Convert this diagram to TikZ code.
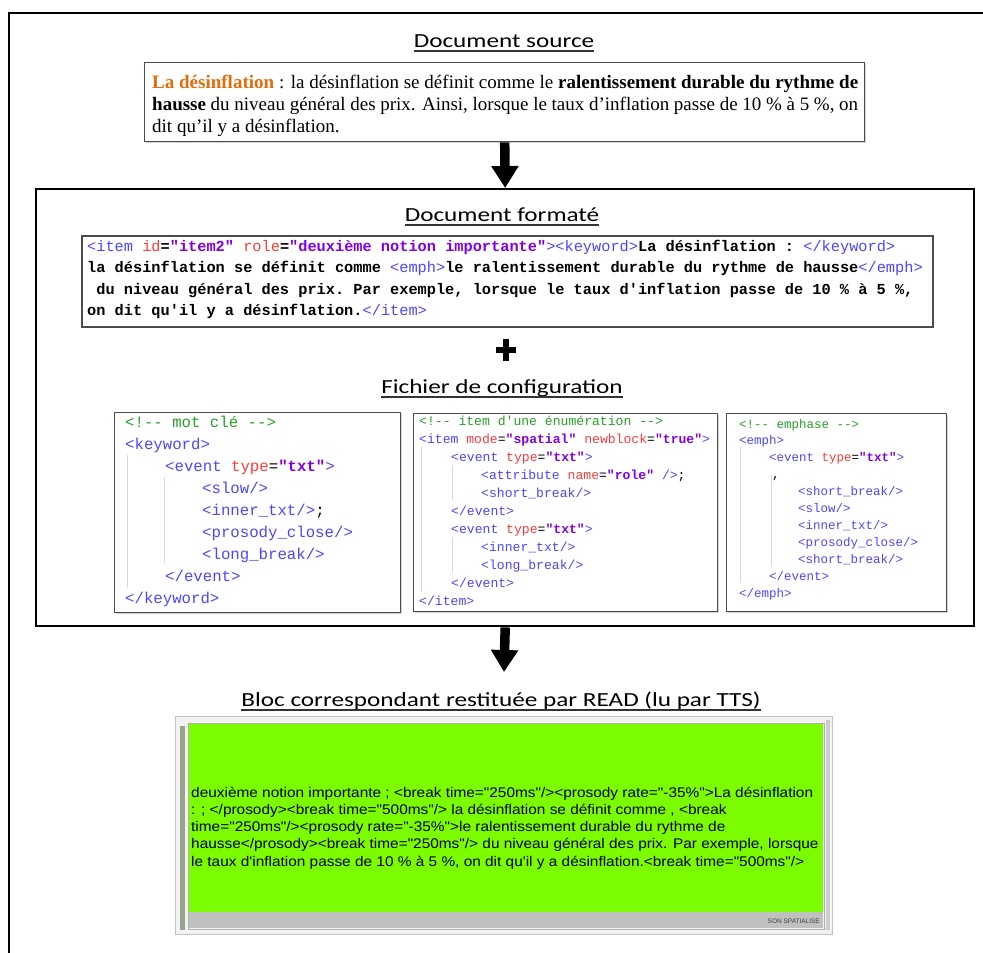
\documentclass[tikz,border=0pt]{standalone}
\usepackage{fontspec}
\setmainfont{Liberation Serif}
\setmonofont{Liberation Mono}
\newfontfamily\titlefont{Carlito}[FakeStretch=1.26]
\newfontfamily\srcfont{Liberation Serif}[FakeStretch=1.0]
\newfontfamily\arialfont{Liberation Sans}[FakeStretch=1.1]
\newfontfamily\smallarial{Liberation Sans}
\usetikzlibrary{arrows.meta,shadows}
\definecolor{xtag}{RGB}{75,70,255}
\definecolor{xattr}{RGB}{250,60,60}
\definecolor{xval}{RGB}{130,0,230}
\definecolor{xcom}{RGB}{40,160,40}
\definecolor{srcorange}{RGB}{228,108,10}
\definecolor{winGreen}{RGB}{124,252,0}
\definecolor{winBorder}{RGB}{195,195,195}
\definecolor{winFill}{RGB}{242,242,242}
\definecolor{winInner}{RGB}{175,175,175}
\definecolor{winBar}{RGB}{192,192,192}
\definecolor{winScrollL}{RGB}{150,162,140}
\definecolor{winScrollR}{RGB}{205,205,205}
\newcommand\xtg[1]{{\mdseries\color{xtag}#1}}
\newcommand\xat[1]{{\mdseries\color{xattr}#1}}
\newcommand\xvl[1]{{\bfseries\color{xval}#1}}
\newcommand\xcm[1]{{\mdseries\color{xcom}#1}}
\begin{document}
\begin{tikzpicture}[x=1pt,y=-1pt,
  title/.style={font=\titlefont\fontsize{20}{24}\selectfont, anchor=base, inner sep=0pt},
  uline/.style={line width=1.3pt, black!80},
  box/.style={draw=black!70, line width=1.4pt, fill=white, anchor=north west, inner sep=0pt,
    drop shadow={shadow xshift=1.2pt,shadow yshift=-1.2pt,opacity=0.35}},
  code/.style={anchor=base west, inner sep=0pt},
  fmtcode/.style={code, font=\ttfamily\bfseries\fontsize{15.3}{18}\selectfont},
  cfgA/.style={code, font=\ttfamily\fontsize{15.7}{18}\selectfont},
  cfgB/.style={code, font=\ttfamily\fontsize{13.1}{16}\selectfont},
  cfgC/.style={code, font=\ttfamily\fontsize{12.5}{15}\selectfont},
  srctext/.style={code, font=\srcfont\fontsize{19}{22}\selectfont},
  greentext/.style={code, font=\arialfont\fontsize{14}{16}\selectfont},
  bigarrow/.style={line width=9.5pt, -{Triangle[width=26pt,length=22pt]}},
  guide/.style={black!15, line width=0.8pt},
  pluspen/.style={line width=6pt},
]
\useasboundingbox (0,0) rectangle (983,953);

% outer frame (clipped at right and bottom)
\draw[line width=2pt] (9,953) -- (9,13) -- (983,13);

% ---------- Document source ----------
\node[title] (t1) at (504,47) {Document source};
\draw[uline] ([yshift=-4pt]t1.base west) -- ([yshift=-4pt]t1.base east);

\node[box, minimum width=720pt, minimum height=79pt] (src) at (144,62) {};
\node[srctext] (s1) at (152,88) {\makebox[706pt][s]{\textbf{\textcolor{srcorange}{La désinflation}} : la désinflation se définit comme le \textbf{ralentissement durable du rythme de}}};
\node[srctext] (s2) at (152,110) {\makebox[706pt][s]{\textbf{hausse} du niveau général des prix. Ainsi, lorsque le taux d’inflation passe de 10 \% à 5 \%, on}};
\node[srctext] (s3) at (152,132) {dit qu’il y a désinflation.};

% ---------- big frame ----------
\node[box, draw=black, line width=2.4pt, minimum width=938pt, minimum height=437pt] (frame) at (35,188) {};
\draw[bigarrow] (src.south) -- (frame.north);

\node[title] (t2) at (502,221) {Document formaté};
\draw[uline] ([yshift=-4pt]t2.base west) -- ([yshift=-4pt]t2.base east);

\node[box, line width=1.8pt, minimum width=851pt, minimum height=91pt] (fmt) at (81,235) {};
\node[fmtcode] (f1) at (87,251) {\xtg{<item} \xat{id}=\xvl{"item2"} \xat{role}=\xvl{"deuxième notion importante"}\xtg{>}\xtg{<keyword>}La désinflation : \xtg{</keyword>}};
\node[fmtcode] (f2) at (87,272.5) {la désinflation se définit comme \xtg{<emph>}le ralentissement durable du rythme de hausse\xtg{</emph>}};
\node[fmtcode] (f3) at (87,294) {\ du niveau général des prix. Par exemple, lorsque le taux d'inflation passe de 10 \% à 5 \%,};
\node[fmtcode] (f4) at (87,315) {on dit qu'il y a désinflation.\xtg{</item>}};

% plus sign
\coordinate (plus) at (506,350);
\draw[pluspen] ([xshift=-10pt]plus) -- ([xshift=10pt]plus);
\draw[pluspen] ([yshift=-11pt]plus) -- ([yshift=11pt]plus);

\node[title] (t3) at (502,393) {Fichier de configuration};
\draw[uline] ([yshift=-4pt]t3.base west) -- ([yshift=-4pt]t3.base east);

% ---------- config box 1 ----------
\node[box, minimum width=286pt, minimum height=200pt] (cfg1) at (114,412) {};
\draw[guide] (127,455) -- (127,588);
\draw[guide] (164,477) -- (164,563);
\node[cfgA] (a0) at (125,427)   {\xcm{<!-- mot clé -->}};
\node[cfgA] (a1) at (125,449.1) {\xtg{<keyword>}};
\node[cfgA] (a2) at (165,471.2) {\xtg{<event} \xat{type}=\xvl{"txt"}\xtg{>}};
\node[cfgA] (a3) at (202,493.3) {\xtg{<slow/>}};
\node[cfgA] (a4) at (202,515.4) {\xtg{<inner\_txt/>};};
\node[cfgA] (a5) at (202,537.5) {\xtg{<prosody\_close/>}};
\node[cfgA] (a6) at (202,559.6) {\xtg{<long\_break/>}};
\node[cfgA] (a7) at (165,581.7) {\xtg{</event>}};
\node[cfgA] (a8) at (125,603.8) {\xtg{</keyword>}};

% ---------- config box 2 ----------
\node[box, minimum width=304pt, minimum height=198pt] (cfg2) at (413,413) {};
\draw[guide] (421,447) -- (421,592);
\draw[guide] (452,465) -- (452,500);
\draw[guide] (452,537) -- (452,573);
\node[cfgB] (b0) at (419,425) {\xcm{<!-- item d'une énumération -->}};
\node[cfgB] (b1) at (419,443) {\xtg{<item} \xat{mode}=\xvl{"spatial"} \xat{newblock}=\xvl{"true"}\xtg{>}};
\node[cfgB] (b2) at (451,461) {\xtg{<event} \xat{type}=\xvl{"txt"}\xtg{>}};
\node[cfgB] (b3) at (481,479) {\xtg{<attribute} \xat{name}=\xvl{"role"} \xtg{/>};};
\node[cfgB] (b4) at (481,497) {\xtg{<short\_break/>}};
\node[cfgB] (b5) at (451,515) {\xtg{</event>}};
\node[cfgB] (b6) at (451,533) {\xtg{<event} \xat{type}=\xvl{"txt"}\xtg{>}};
\node[cfgB] (b7) at (481,551) {\xtg{<inner\_txt/>}};
\node[cfgB] (b8) at (481,569) {\xtg{<long\_break/>}};
\node[cfgB] (b9) at (451,587) {\xtg{</event>}};
\node[cfgB] (b10) at (419,605) {\xtg{</item>}};

% ---------- config box 3 ----------
\node[box, minimum width=220pt, minimum height=198pt] (cfg3) at (726,413) {};
\draw[guide] (740,447) -- (740,583);
\draw[guide] (771,475) -- (771,567);
\node[cfgC] (c0) at (739,428)   {\xcm{<!-- emphase -->}};
\node[cfgC] (c1) at (739,444.9) {\xtg{<emph>}};
\node[cfgC] (c2) at (769,461.8) {\xtg{<event} \xat{type}=\xvl{"txt"}\xtg{>}};
\node[cfgC] (c3) at (772,478.7) {,};
\node[cfgC] (c4) at (798,495.6) {\xtg{<short\_break/>}};
\node[cfgC] (c5) at (798,512.5) {\xtg{<slow/>}};
\node[cfgC] (c6) at (798,529.4) {\xtg{<inner\_txt/>}};
\node[cfgC] (c7) at (798,546.3) {\xtg{<prosody\_close/>}};
\node[cfgC] (c8) at (798,563.2) {\xtg{<short\_break/>}};
\node[cfgC] (c9) at (769,580.1) {\xtg{</event>}};
\node[cfgC] (c10) at (739,597) {\xtg{</emph>}};

% ---------- arrow to result ----------
\coordinate (a2end) at (504,672);
\draw[bigarrow] (frame.south) -- (a2end);

\node[title] (t4) at (501,706) {Bloc correspondant restituée par READ (lu par TTS)};
\draw[uline] ([yshift=-4pt]t4.base west) -- ([yshift=-4pt]t4.base east);

% ---------- window ----------
\node[draw=winBorder, fill=winFill, line width=1.2pt,
  anchor=north west, inner sep=0pt, minimum width=657pt, minimum height=218pt] (win) at (175,716) {};
\draw[winInner, line width=1pt] (188,723) rectangle (824,929);
\fill[winGreen] (189,724) rectangle (823,912);
\fill[winBar] (189,912) rectangle (823,928);
\fill[winScrollL] (180,726) rectangle (185,930);
\fill[winScrollR] (826,720) rectangle (830,930);
\node[anchor=base east, inner sep=0pt, font=\smallarial\fontsize{6.5}{8}\selectfont, text=black!75] (son) at (820,923) {SON SPATIALISE};

\node[greentext] (g1) at (191,797)    {deuxième notion importante ; <break time="250ms"/><prosody rate="-35\%">La désinflation};
\node[greentext] (g2) at (191,814.25) {: ; </prosody><break time="500ms"/> la désinflation se définit comme , <break};
\node[greentext] (g3) at (191,831.5)  {time="250ms"/><prosody rate="-35\%">le ralentissement durable du rythme de};
\node[greentext] (g4) at (191,848.75) {hausse</prosody><break time="250ms"/> du niveau général des prix. Par exemple, lorsque};
\node[greentext] (g5) at (191,866)    {le taux d'inflation passe de 10 \% à 5 \%, on dit qu'il y a désinflation.<break time="500ms"/>};
\end{tikzpicture}
\end{document}
